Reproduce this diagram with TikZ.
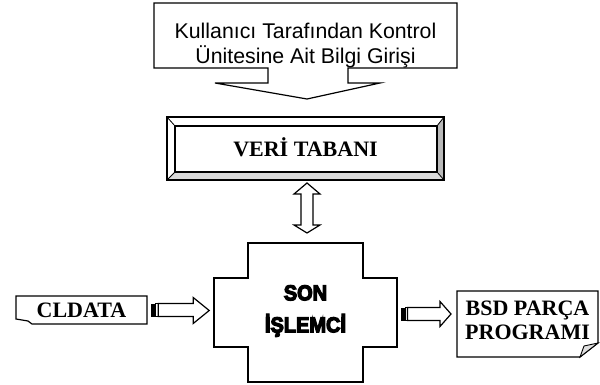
\documentclass[tikz,border=0pt]{standalone}
\usepackage{fontspec}
\setmainfont{Liberation Serif}
\newfontfamily\arialfont{Liberation Sans}
\newfontfamily\heavyfont[UprightFont={* Bold},UprightFeatures={FakeStretch=0.93}]{Liberation Sans}
\newcommand{\heavytext}[1]{\special{pdf:literal direct 2 Tr 1.2 w}#1\special{pdf:literal direct 0 Tr}}
\usetikzlibrary{calc}
\begin{document}
\begin{tikzpicture}[x=1pt,y=-1pt,line join=miter,
  ln/.style={draw=black,line width=1.2pt},
  blk/.style={draw=black,line width=1.2pt,fill=white},
  serifbold/.style={font=\bfseries\fontsize{22}{24}\selectfont,align=center}]
\useasboundingbox[fill=white] (0,0) rectangle (600,385);

% input callout
\node[font=\arialfont\fontsize{21.3}{25}\selectfont,align=center] (inp) at (305.5,46) {Kullanıcı Tarafından Kontrol\\Ünitesine Ait Bilgi Girişi};
\draw[ln] (268,68) -- (154,68) -- (154,3) -- (457,3) -- (457,68) -- (348,68) -- (348,83) -- (380,83) -- (307,99) -- (215,83) -- (268,83) -- cycle;

% database bevel box
\node[serifbold,minimum width=277pt,minimum height=63pt,inner sep=0pt] (db) at (305.5,147.5) {VERİ TABANI};
\begin{scope}[shift={(305.5,148.5)}]
  \fill[gray!55] (138.5,-31.5) -- (138.5,31.5) -- (131.5,23.5) -- (131.5,-22.5) -- cycle;
  \fill[gray!30] (-138.5,31.5) -- (138.5,31.5) -- (131.5,23.5) -- (-130.5,23.5) -- cycle;
  \draw[ln] (-138.5,-31.5) rectangle (138.5,31.5);
  \draw[ln] (-130.5,-22.5) rectangle (131.5,23.5);
  \draw[line width=0.8pt] (-138.5,-31.5) -- (-130.5,-22.5) (138.5,-31.5) -- (131.5,-22.5)
        (138.5,31.5) -- (131.5,23.5) (-138.5,31.5) -- (-130.5,23.5);
\end{scope}

% post-processor cross
\node[minimum width=183pt,minimum height=139pt,inner sep=0pt,align=center,
      font=\heavyfont\fontsize{21.5}{32}\selectfont] (proc) at (305.5,311) {\heavytext{SON}\\\heavytext{İŞLEMCİ}};
\begin{scope}[shift={(305.5,312.5)}]
  \draw[ln] (-57.5,-69.5) -- (57.5,-69.5) -- (57.5,-34.5) -- (91.5,-34.5) -- (91.5,34.5) -- (57.5,34.5) -- (57.5,69.5) -- (-57.5,69.5) -- (-57.5,34.5) -- (-91.5,34.5) -- (-91.5,-34.5) -- (-57.5,-34.5) -- cycle;
\end{scope}

% up-down arrow between db and proc
\begin{scope}[shift={(305.5,180)}]
  \draw[blk] (1.5,3) -- (14.5,14) -- (7.5,14) -- (7.5,45) -- (14.5,45) -- (1.5,53) -- (-11.5,45) -- (-4.5,45) -- (-4.5,14) -- (-11.5,14) -- cycle;
\end{scope}

% CLDATA document
\node[serifbold,minimum width=131pt,minimum height=28pt,inner sep=0pt] (cl) at (81.5,310) {CLDATA};
\begin{scope}[shift={(cl.center)}]
  \draw[ln] (-65.5,-14) -- (65.5,-14) -- (65.5,14) -- (-49.5,14) -- (-53.5,11) -- (-65.5,9) -- cycle;
\end{scope}

% striped arrow CLDATA -> proc
\begin{scope}[shift={(cl.east)}]
  \fill[black] (4,-6.5) rectangle (7.5,6.5);
  \draw[line width=0.9pt,fill=white] (8.6,-6.5) rectangle (11,6.5);
  \draw[blk] (11,-6.5) -- (46,-6.5) -- (46,-12.5) -- (62,0.5) -- (46,13.5) -- (46,6.5) -- (11,6.5) -- cycle;
\end{scope}

% BSD document
\node[serifbold,minimum width=141pt,minimum height=66pt,inner sep=0pt] (bsd) at (527.5,320) {BSD PARÇA\\PROGRAMI};
\begin{scope}[shift={(527.5,324)}]
  \draw[ln] (-70.5,-33) -- (70.5,-33) -- (70.5,19) -- (52.5,33) -- (-70.5,33) -- cycle;
  \draw[line width=0.9pt,fill=gray!25] (52.5,33) -- (56.5,22) -- (70.5,19) -- cycle;
\end{scope}

% striped arrow proc -> BSD
\begin{scope}[shift={(397,312.5)}]
  \fill[black] (4,-5) rectangle (7.5,8);
  \draw[line width=0.9pt,fill=white] (8.4,-5) rectangle (10.5,8);
  \draw[blk] (10.5,-5) -- (43,-5) -- (43,-11) -- (54,1.5) -- (43,14) -- (43,8) -- (10.5,8) -- cycle;
\end{scope}
\end{tikzpicture}
\end{document}
